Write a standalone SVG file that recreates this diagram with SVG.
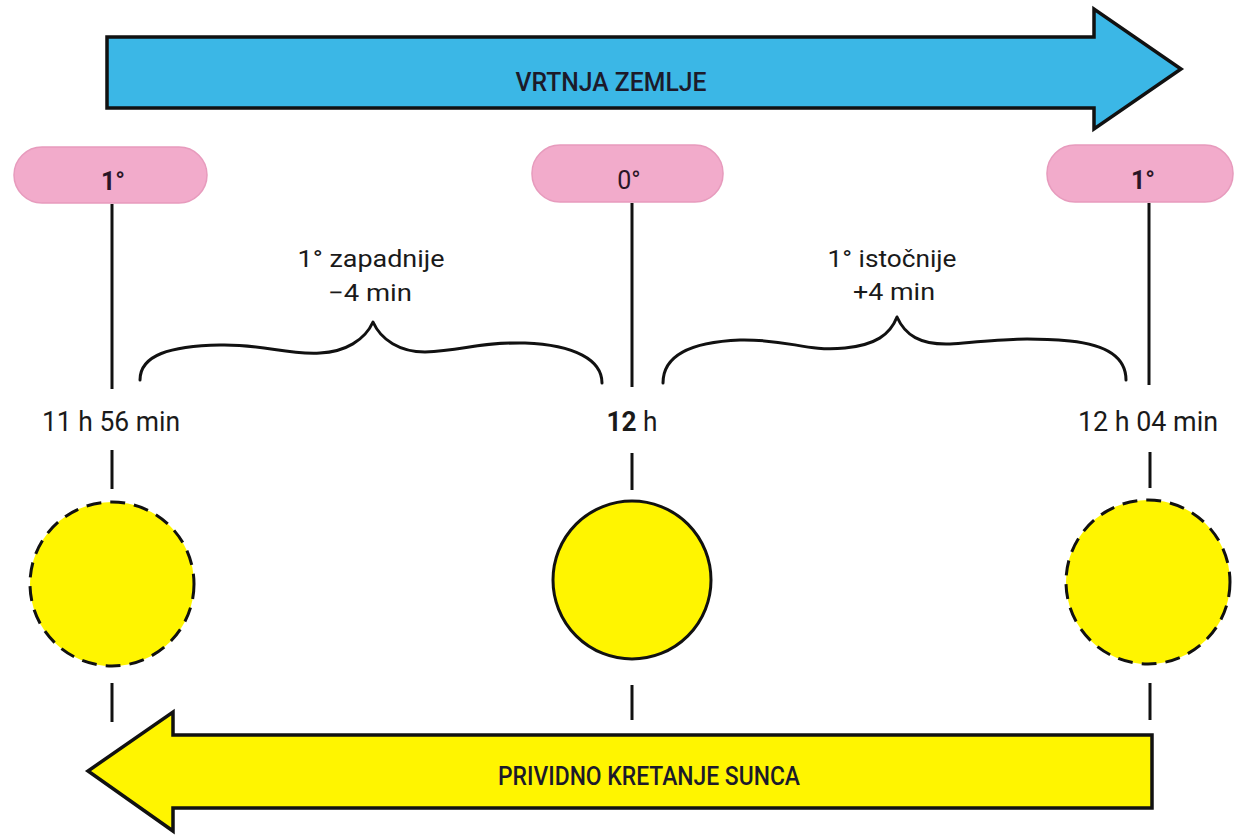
<svg xmlns="http://www.w3.org/2000/svg" width="1239" height="835" viewBox="0 0 1239 835">
<style>
.bg{fill:#ffffff}
.arrow-blue{fill:#3bb7e6;stroke:#111;stroke-width:3.5;stroke-linejoin:miter}
.arrow-yellow{fill:#fff500;stroke:#111;stroke-width:3.5;stroke-linejoin:miter}
.pill{fill:#f2abcb;stroke:#e79bbd;stroke-width:1.5}
.pilltxt{font-family:Roboto,"DejaVu Sans",sans-serif;font-size:25px;fill:#2a1526;text-anchor:middle}
.caps{font-family:Roboto,"DejaVu Sans",sans-serif;font-size:25px;font-weight:500;fill:#1c1a2a;text-anchor:middle}
.lbl{font-family:Roboto,"Open Sans",sans-serif;font-size:24px;fill:#1a1a1a;text-anchor:middle}
.time{font-family:Roboto,"Open Sans",sans-serif;font-size:28px;fill:#1a1a1a;text-anchor:middle}
.line{stroke:#111;stroke-width:3;fill:none}
.brace{stroke:#111;stroke-width:3;fill:none;stroke-linecap:round;stroke-linejoin:round}
.sun{fill:#fff500;stroke:#111;stroke-width:3}
.sun-dash{fill:#fff500;stroke:#111;stroke-width:3;stroke-dasharray:15 9}
</style>
<rect class="bg" x="0" y="0" width="1239" height="835"/>

<g id="vrtnja-zemlje">
<polygon class="arrow-blue" points="107,37 1094,37 1094,9 1181,69 1094,129 1094,108 107,108"/>
<text class="caps" x="611" y="91" textLength="191" lengthAdjust="spacingAndGlyphs">VRTNJA ZEMLJE</text>
</g>

<g id="prividno-kretanje-sunca">
<polygon class="arrow-yellow" points="1152,735 173,735 173,712 88,771 173,831 173,808 1152,808"/>
<text class="caps" x="649" y="785" textLength="302" lengthAdjust="spacingAndGlyphs">PRIVIDNO KRETANJE SUNCA</text>
</g>

<g id="pill-left">
<rect class="pill" x="14" y="147" width="193" height="56" rx="28"/>
<text class="pilltxt" x="113" y="190" font-weight="bold">1°</text>
</g>
<g id="pill-middle">
<rect class="pill" x="532" y="145" width="191" height="57" rx="28"/>
<text class="pilltxt" x="629" y="189">0°</text>
</g>
<g id="pill-right">
<rect class="pill" x="1047" y="145" width="186" height="57" rx="28"/>
<text class="pilltxt" x="1143" y="189" font-weight="bold">1°</text>
</g>

<g id="connectors">
<line class="line" x1="112" y1="204" x2="112" y2="389"/>
<line class="line" x1="632" y1="203" x2="632" y2="387"/>
<line class="line" x1="1149" y1="203" x2="1149" y2="385"/>
<line class="line" x1="112" y1="450" x2="112" y2="489"/>
<line class="line" x1="112" y1="683" x2="112" y2="722"/>
<line class="line" x1="632" y1="453" x2="632" y2="490"/>
<line class="line" x1="632" y1="685" x2="632" y2="720"/>
<line class="line" x1="1150" y1="452" x2="1150" y2="488"/>
<line class="line" x1="1150" y1="683" x2="1150" y2="720"/>
<path class="brace" d="M140,380 C140,355 170,346 220,345 C265,344 285,355 320,353 C345,352 365,340 373,322 C381,340 400,352 425,352 C465,350 480,342 525,343 C575,345 602,360 602,383"/>
<path class="brace" d="M663,383 C663,355 690,342 740,340 C790,339 805,352 845,348 C875,345 890,335 897,317 C905,335 920,345 950,344 C1000,340 1020,337 1070,341 C1110,345 1126,360 1126,380"/>
</g>

<g id="label-west">
<text class="lbl" x="371" y="267" textLength="147" lengthAdjust="spacingAndGlyphs">1° zapadnije</text>
<text class="lbl" x="370" y="301" textLength="84" lengthAdjust="spacingAndGlyphs">−4 min</text>
</g>
<g id="label-east">
<text class="lbl" x="892" y="267" textLength="129" lengthAdjust="spacingAndGlyphs">1° istočnije</text>
<text class="lbl" x="894" y="300" textLength="82" lengthAdjust="spacingAndGlyphs">+4 min</text>
</g>

<g id="time-left">
<text class="time" x="111" y="431" textLength="138" lengthAdjust="spacingAndGlyphs">11 h 56 min</text>
</g>
<g id="time-middle">
<text class="time" x="632" y="431" textLength="51" lengthAdjust="spacingAndGlyphs"><tspan font-weight="bold">12</tspan> h</text>
</g>
<g id="time-right">
<text class="time" x="1148" y="431" textLength="140" lengthAdjust="spacingAndGlyphs">12 h 04 min</text>
</g>

<g id="sun-left">
<circle class="sun-dash" cx="112" cy="584" r="82"/>
</g>
<g id="sun-middle">
<circle class="sun" cx="632" cy="580" r="79"/>
</g>
<g id="sun-right">
<circle class="sun-dash" cx="1148" cy="582" r="82"/>
</g>
</svg>
